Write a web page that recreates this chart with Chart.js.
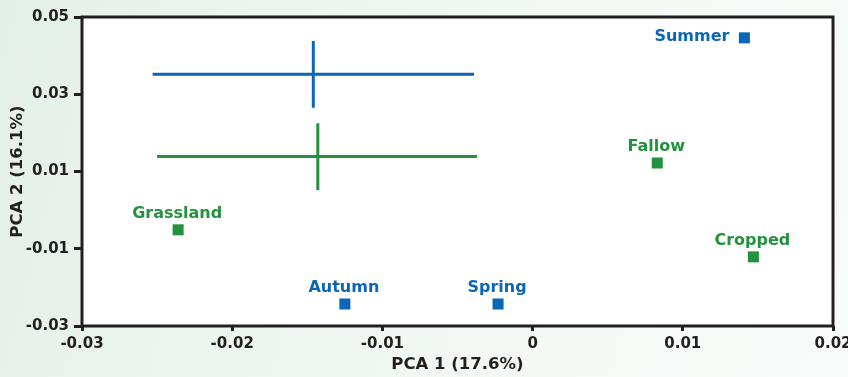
<!DOCTYPE html>
<html>
<head>
<meta charset="utf-8">
<script src="https://cdn.jsdelivr.net/npm/chart.js@4/dist/chart.umd.min.js"></script>
<style>
  html, body { margin: 0; padding: 0; }
  body {
    width: 848px; height: 377px; overflow: hidden;
    background: linear-gradient(105deg, #e3f0e7 0%, #edf5ef 35%, #f5f9f6 70%, #f8fbf9 100%);
  }
  #wrap { position: relative; width: 848px; height: 377px; }
</style>
</head>
<body>
<div id="wrap"><canvas id="pcaChart"></canvas></div>
<script>
// Points (sites in green, seasons in blue)
const pointNames = ['Summer', 'Fallow', 'Cropped', 'Grassland', 'Autumn', 'Spring'];
const pointX = [0.0141, 0.0083, 0.0147, -0.0236, -0.0125, -0.0023];
const pointY = [0.0446, 0.0122, -0.0121, -0.0051, -0.0243, -0.0243];
const pointGroup = ['season', 'site', 'site', 'site', 'season', 'season'];
const labelSide = ['left', 'above', 'above', 'above', 'above', 'above'];

// Crosses: centre and extent on each axis
const crossGroup = ['season', 'site'];
const crossX = [-0.0146, -0.0143];
const crossY = [0.0352, 0.0139];
const crossXMin = [-0.0253, -0.0250];
const crossXMax = [-0.0039, -0.0037];
const crossYMin = [0.0265, 0.0052];
const crossYMax = [0.0438, 0.0225];

// Axis ticks
const xTicks = [-0.03, -0.02, -0.01, 0, 0.01, 0.02];
const yTicks = [-0.03, -0.01, 0.01, 0.03, 0.05];

const colors = { season: '#0b67b5', site: '#24923d' };
const axisColor = '#231f20';

Chart.defaults.font.family = "'DejaVu Sans', sans-serif";
Chart.defaults.font.weight = 'bold';
Chart.defaults.color = axisColor;

function fmt(v) {
    const r = Math.round(v * 100) / 100;
    return r === 0 ? '0' : r.toFixed(2);
}

// Build the datasets
const datasets = [];
crossGroup.forEach((g, i) => {
    datasets.push({
        data: [{ x: crossXMin[i], y: crossY[i] }, { x: crossXMax[i], y: crossY[i] }],
        showLine: true, borderColor: colors[g], borderWidth: 3, pointRadius: 0
    });
    datasets.push({
        data: [{ x: crossX[i], y: crossYMin[i] }, { x: crossX[i], y: crossYMax[i] }],
        showLine: true, borderColor: colors[g], borderWidth: 3, pointRadius: 0
    });
});
datasets.push({
    data: pointX.map((x, i) => ({ x: x, y: pointY[i] })),
    pointStyle: 'rect',
    pointRadius: 7.8,
    pointBorderWidth: 0,
    backgroundColor: pointGroup.map(g => colors[g]),
    borderColor: pointGroup.map(g => colors[g]),
    showLine: false
});

// Fond blanc de la zone de tracé + cadre + étiquettes
const plotBox = {
    id: 'plotBox',
    beforeDraw(chart) {
        const a = chart.chartArea, ctx = chart.ctx;
        ctx.save();
        ctx.fillStyle = '#ffffff';
        ctx.fillRect(a.left, a.top, a.right - a.left, a.bottom - a.top);
        ctx.restore();
    },
    afterDraw(chart) {
        const a = chart.chartArea, ctx = chart.ctx;
        const xs = chart.scales.x, ys = chart.scales.y;
        ctx.save();
        ctx.strokeStyle = axisColor;
        ctx.lineWidth = 3;
        ctx.strokeRect(a.left, a.top, a.right - a.left, a.bottom - a.top);

        ctx.font = "bold 16px 'DejaVu Sans', sans-serif";
        ctx.textBaseline = 'middle';
        pointNames.forEach((name, i) => {
            const px = xs.getPixelForValue(pointX[i]);
            const py = ys.getPixelForValue(pointY[i]);
            ctx.fillStyle = colors[pointGroup[i]];
            if (labelSide[i] === 'left') {
                ctx.textAlign = 'right';
                ctx.fillText(name, px - 15, py - 1);
            } else {
                ctx.textAlign = 'center';
                ctx.fillText(name, px - 1, py - 16);
            }
        });
        ctx.restore();
    }
};

const ctx = document.getElementById('pcaChart').getContext('2d');
new Chart(ctx, {
    type: 'scatter',
    data: { datasets: datasets },
    options: {
        responsive: true,
        maintainAspectRatio: false,
        animation: false,
        layout: { padding: { top: 17, right: 15, left: 0, bottom: 0 } },
        plugins: {
            legend: { display: false },
            tooltip: { enabled: false }
        },
        scales: {
            x: {
                type: 'linear',
                min: -0.03,
                max: 0.02,
                afterBuildTicks: scale => { scale.ticks = xTicks.map(v => ({ value: v })); },
                afterFit: scale => {
                    scale.height = 51;
                    scale.paddingLeft = 0;
                    scale.paddingRight = 0;
                },
                border: { display: false },
                grid: {
                    drawOnChartArea: false,
                    drawTicks: true,
                    tickLength: 5,
                    tickWidth: 3,
                    tickColor: axisColor
                },
                ticks: {
                    padding: 4,
                    maxRotation: 0,
                    color: axisColor,
                    font: { size: 15, weight: 'bold' },
                    callback: v => fmt(v)
                },
                title: {
                    display: true,
                    text: 'PCA 1 (17.6%)',
                    color: axisColor,
                    font: { size: 16.5, weight: 'bold' },
                    padding: { top: 0, bottom: 2 }
                }
            },
            y: {
                type: 'linear',
                min: -0.03,
                max: 0.05,
                afterBuildTicks: scale => { scale.ticks = yTicks.map(v => ({ value: v })); },
                afterFit: scale => {
                    scale.width = 82;
                    scale.paddingTop = 0;
                    scale.paddingBottom = 0;
                },
                border: { display: false },
                grid: {
                    drawOnChartArea: false,
                    drawTicks: true,
                    tickLength: 8,
                    tickWidth: 3,
                    tickColor: axisColor
                },
                ticks: {
                    padding: 5,
                    color: axisColor,
                    font: { size: 15, weight: 'bold' },
                    callback: v => fmt(v)
                },
                title: {
                    display: true,
                    text: 'PCA 2 (16.1%)',
                    color: axisColor,
                    font: { size: 16.5, weight: 'bold' },
                    padding: { top: 8, bottom: 0 }
                }
            }
        }
    },
    plugins: [plotBox]
});
</script>
</body>
</html>
